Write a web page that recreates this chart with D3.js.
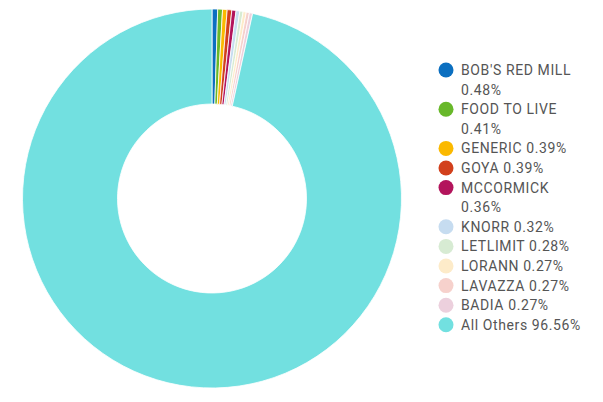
<!DOCTYPE html>
<html><head><meta charset="utf-8">
<script src="https://cdn.jsdelivr.net/npm/d3@7"></script>
<style>body{margin:0;background:#fff}svg{display:block}</style>
</head><body>
<svg id="chart" width="603" height="402"></svg>
<script>
const brands = ["BOB'S RED MILL","FOOD TO LIVE","GENERIC","GOYA","MCCORMICK","KNORR","LETLIMIT","LORANN","LAVAZZA","BADIA","All Others"];
const shares = [0.48,0.41,0.39,0.39,0.36,0.32,0.28,0.27,0.27,0.27,96.56];
const colors = ["#0b6fc0","#68b82a","#fbb900","#d2401c","#b3145c","#c6dcf0","#d7ebd3","#fdebc9","#f6d1cc","#ecd0dd","#72e0e0"];
// legend label lines (wrapped as in the reference)
const legendLines = [["BOB'S RED MILL","0.48%"],["FOOD TO LIVE","0.41%"],["GENERIC 0.39%"],["GOYA 0.39%"],["MCCORMICK","0.36%"],["KNORR 0.32%"],["LETLIMIT 0.28%"],["LORANN 0.27%"],["LAVAZZA 0.27%"],["BADIA 0.27%"],["All Others 96.56%"]];

const data = brands.map((b,i)=>({brand:b,value:shares[i],color:colors[i],lines:legendLines[i]}));
const svg = d3.select("#chart");
const cx = 212, cy = 198.5, outerR = 189.5, innerR = 94.5;
const pie = d3.pie().sort(null).value(d=>d.value);
const arc = d3.arc().innerRadius(innerR).outerRadius(outerR);
svg.append("g").attr("transform",`translate(${cx},${cy})`)
  .selectAll("path").data(pie(data)).join("path")
  .attr("d",arc).attr("fill",d=>d.data.color)
  .attr("stroke","#fff").attr("stroke-width",0.8);

const lg = svg.append("g").attr("font-family","Roboto, 'Noto Sans', sans-serif").attr("font-size",14).attr("letter-spacing","0.6px").attr("fill","#555");
const lineH = 19.6;
let row = 0;
const y0 = 70;
data.forEach(d=>{
  const y = y0 + row*lineH;
  lg.append("circle").attr("cx",446).attr("cy",y).attr("r",7.5).attr("fill",d.color);
  d.lines.forEach((t,j)=>{
    lg.append("text").attr("x",461).attr("y",y + j*lineH).attr("dy","0.35em").text(t);
  });
  row += d.lines.length;
});
</script>
</body></html>
